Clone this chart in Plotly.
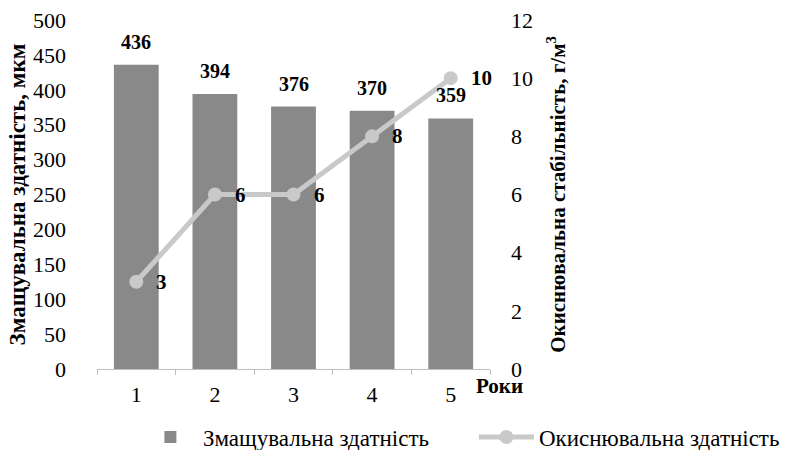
import plotly.graph_objects as go

years = ["1", "2", "3", "4", "5"]
lubricity = [436, 394, 376, 370, 359]
oxidation = [3, 6, 6, 8, 10]

bar_name = "Змащувальна здатність"
line_name = "Окиснювальна здатність"
left_title = "Змащувальна здатність, мкм"
right_title = "Окиснювальна стабільність, г/м<sup>3</sup>"
x_title = "Роки"

FONT = "Liberation Serif"

fig = go.Figure()
fig.add_trace(go.Bar(
    x=years, y=lubricity, name=bar_name,
    marker=dict(color="#898989", line=dict(width=0)),
))
fig.add_trace(go.Scatter(
    x=years, y=oxidation, name=line_name, yaxis="y2",
    mode="lines+markers",
    line=dict(color="#c9c9c9", width=5),
    marker=dict(color="#c9c9c9", size=14),
))

# value labels above the bars (category axis positions are indices)
for i, v in enumerate(lubricity):
    fig.add_annotation(x=i, y=v, xref="x", yref="y", text=f"<b>{v}</b>",
                       showarrow=False, yanchor="bottom", yshift=10,
                       font=dict(family=FONT, size=20, color="black"))
# value labels to the right of the line points
for i, v in enumerate(oxidation):
    fig.add_annotation(x=i, y=v, xref="x", yref="y2", text=f"<b>{v}</b>",
                       showarrow=False, xanchor="left", xshift=18,
                       font=dict(family=FONT, size=21, color="black"))

fig.update_layout(
    width=793, height=450,
    margin=dict(l=97, r=303, t=20, b=81, autoexpand=False),
    paper_bgcolor="white", plot_bgcolor="white",
    font=dict(family=FONT, size=22, color="black"),
    bargap=0.43,
    showlegend=True,
    # anchored right of the plot area so the horizontal legend may span the full width
    legend=dict(orientation="h", x=1.814, xanchor="right", y=-0.195, yanchor="middle",
                font=dict(family=FONT, size=23), entrywidth=266, itemwidth=55,
                traceorder="normal"),
    xaxis=dict(type="category", showline=True, linecolor="#bfbfbf", linewidth=1,
               ticks="outside", tickson="boundaries", tickcolor="#bfbfbf", ticklen=5,
               showgrid=False, tickfont=dict(family=FONT, size=22), ticklabelstandoff=6,
               range=[-0.5, 4.5]),
    yaxis=dict(range=[0, 500], dtick=50, showgrid=False, zeroline=False, showline=False,
               tickfont=dict(family=FONT, size=22), ticklabelstandoff=30,
               title=dict(text=f"<b>{left_title}</b>", font=dict(family=FONT, size=23), standoff=0)),
    yaxis2=dict(range=[0, 12], dtick=2, overlaying="y", side="right", showgrid=False,
                zeroline=False, showline=False, tickfont=dict(family=FONT, size=22),
                ticklabelstandoff=20,
                title=dict(text=f"<b>{right_title}</b>", font=dict(family=FONT, size=21), standoff=18)),
)

fig.add_annotation(text=f"<b>{x_title}</b>", xref="paper", yref="paper", x=1.025, y=-0.01,
                   xanchor="center", yanchor="top", showarrow=False,
                   font=dict(family=FONT, size=21, color="black"))

fig.write_html("out.html")
